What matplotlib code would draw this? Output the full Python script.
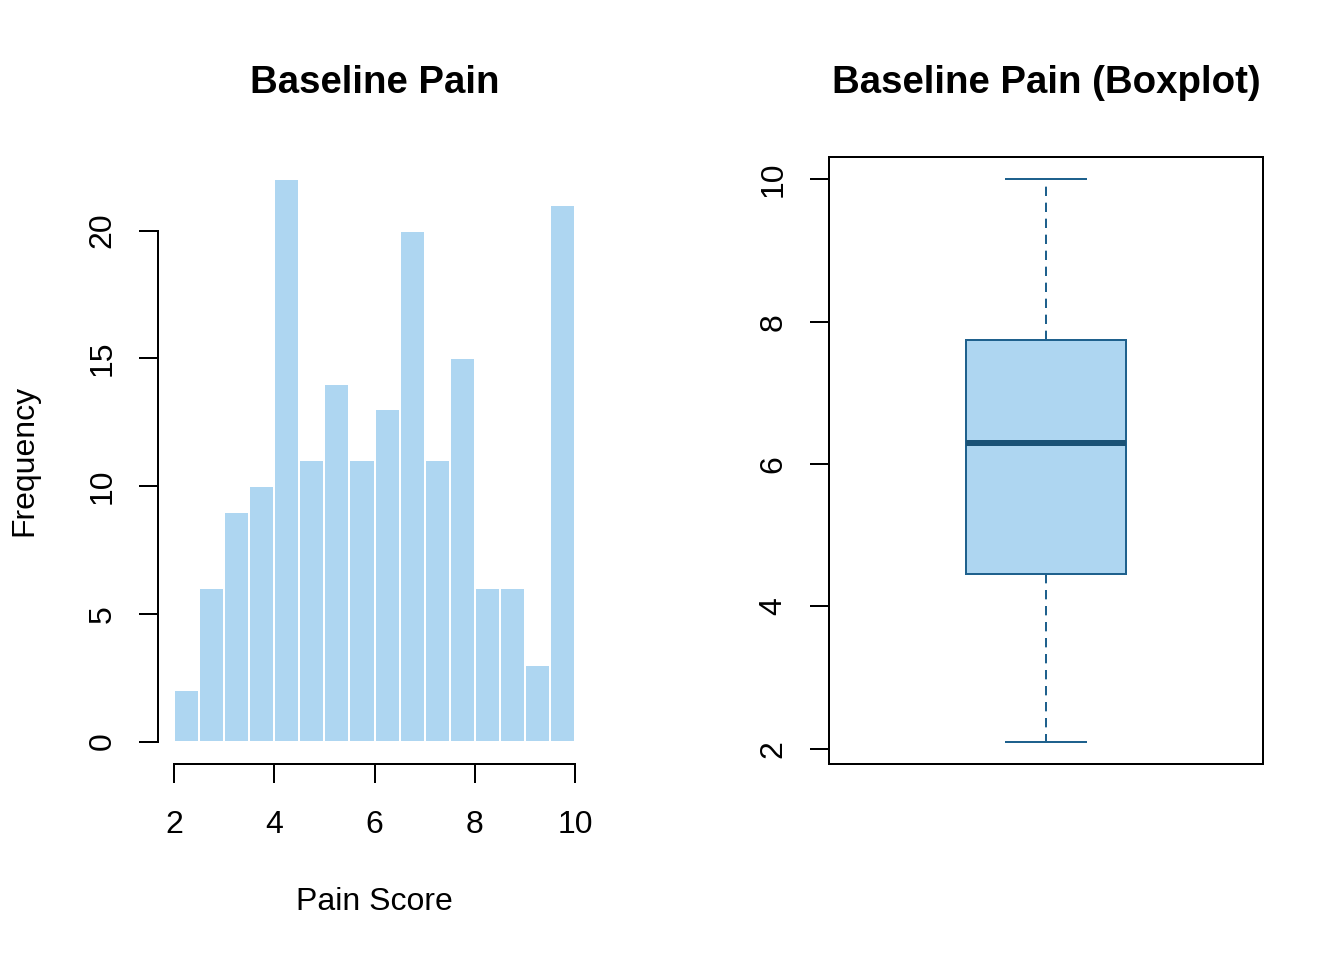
import numpy as np
import matplotlib
matplotlib.use("Agg")
import matplotlib.pyplot as plt

plt.rcParams['font.family'] = ['Liberation Sans', 'DejaVu Sans']

# Histogram data
bin_edges = [2.0, 2.5, 3.0, 3.5, 4.0, 4.5, 5.0, 5.5, 6.0, 6.5, 7.0, 7.5, 8.0, 8.5, 9.0, 9.5, 10.0]
counts = [2, 6, 9, 10, 22, 11, 14, 11, 13, 20, 11, 15, 6, 6, 3, 21]
x_ticks = [2, 4, 6, 8, 10]
y_ticks_hist = [0, 5, 10, 15, 20]

# Boxplot summary stats
box_min = 2.1
box_q1 = 4.45
box_med = 6.3
box_q3 = 7.75
box_max = 10.0
y_ticks_box = [2, 4, 6, 8, 10]

fill = '#AED6F1'
edge = '#1F618D'
med_col = '#1A5276'

fig = plt.figure(figsize=(7, 5), dpi=192)
W, H = 1344, 960

def axpos(x0, x1, y0, y1):
    return [x0 / W, (H - y1) / H, (x1 - x0) / W, (y1 - y0) / H]

ax1 = fig.add_axes(axpos(158, 591, 157, 764))
widths = np.diff(bin_edges)
ax1.bar(bin_edges[:-1], counts, width=widths, align='edge', color=fill,
        edgecolor='white', linewidth=0.75)
ax1.set_xlim(1.68, 10.32)
ax1.set_ylim(-0.88, 22.88)
for s in ['top', 'right']:
    ax1.spines[s].set_visible(False)
ax1.spines['left'].set_bounds(0, 20)
ax1.spines['bottom'].set_bounds(2, 10)
for s in ['left', 'bottom']:
    ax1.spines[s].set_linewidth(0.75)
ax1.set_xticks(x_ticks)
ax1.set_yticks(y_ticks_hist)
ax1.set_yticklabels([str(v) for v in y_ticks_hist], rotation=90, va='center')
ax1.tick_params(axis='both', length=7.2, width=0.75, labelsize=12)
ax1.tick_params(axis='x', pad=10)
ax1.tick_params(axis='y', pad=8)
ax1.set_xlabel('Pain Score', fontsize=12, labelpad=17.7)
ax1.set_ylabel('Frequency', fontsize=12, labelpad=18)
ax1.set_title('Baseline Pain', fontsize=14.4, fontweight='bold', pad=24)

ax2 = fig.add_axes(axpos(829, 1263, 157, 764))
stats = [dict(med=box_med, q1=box_q1, q3=box_q3, whislo=box_min, whishi=box_max, fliers=[])]
ax2.bxp(stats, positions=[1], widths=0.4, patch_artist=True, showfliers=False,
        boxprops=dict(facecolor=fill, edgecolor=edge, linewidth=0.75),
        medianprops=dict(color=med_col, linewidth=2.25, solid_capstyle='butt'),
        whiskerprops=dict(color=edge, linewidth=0.75, linestyle=(0, (4.67, 3.33))),
        capprops=dict(color=edge, linewidth=0.75), capwidths=0.2)
ax2.set_xlim(0.46, 1.54)
rng = box_max - box_min
ax2.set_ylim(box_min - 0.04 * rng, box_max + 0.04 * rng)
ax2.set_xticks([])
ax2.set_yticks(y_ticks_box)
ax2.set_yticklabels([str(v) for v in y_ticks_box], rotation=90, va='center')
ax2.tick_params(axis='y', length=7.2, width=0.75, labelsize=12, pad=8)
for s in ax2.spines.values():
    s.set_linewidth(0.75)
ax2.set_title('Baseline Pain (Boxplot)', fontsize=14.4, fontweight='bold', pad=24)

fig.savefig('out.png', dpi=192)
